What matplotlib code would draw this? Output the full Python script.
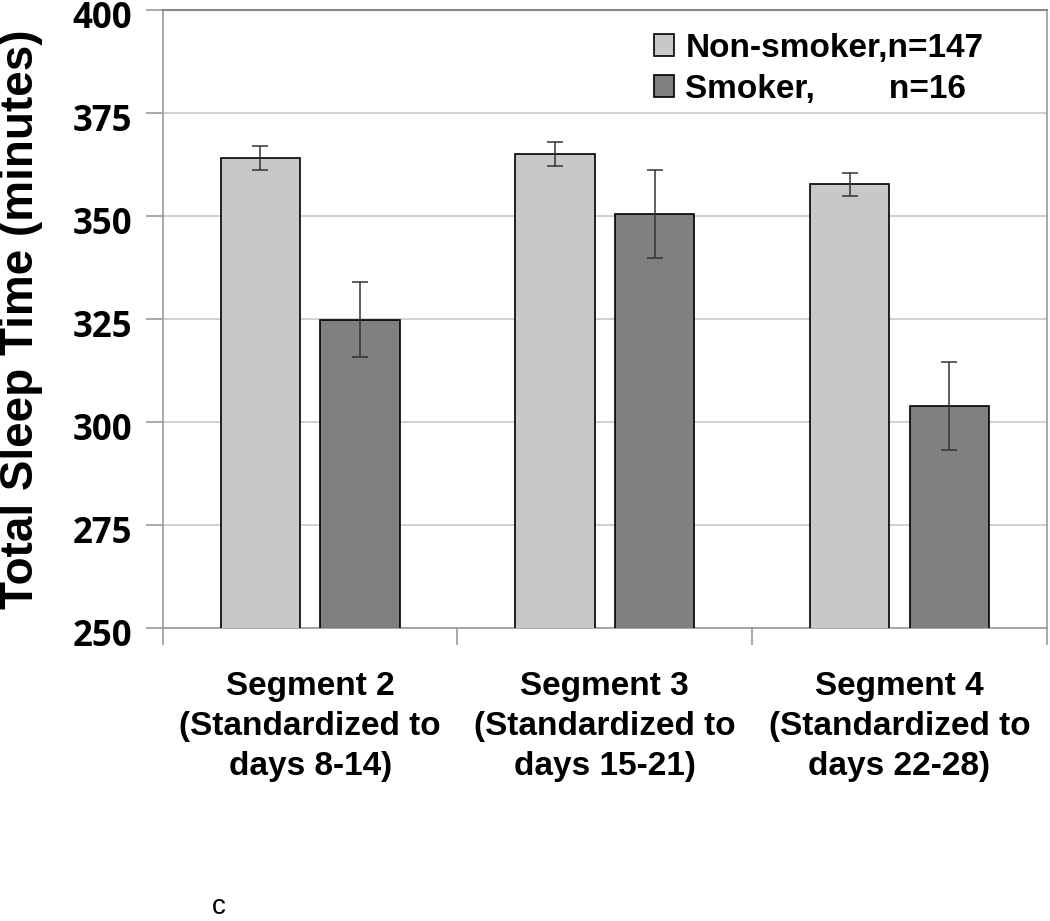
import numpy as np
import matplotlib.pyplot as plt
import matplotlib.transforms as mtransforms

segments = ["Segment 2\n(Standardized to\ndays 8-14)",
            "Segment 3\n(Standardized to\ndays 15-21)",
            "Segment 4\n(Standardized to\ndays 22-28)"]
nonsmoker = [364.2, 365.1, 357.7]
nonsmoker_err = [2.9, 3.0, 2.8]
smoker = [324.9, 350.6, 303.9]
smoker_err = [9.0, 10.7, 10.7]
labels = ["Non-smoker,n=147", "Smoker,        n=16"]

fig = plt.figure(figsize=(10.5, 9.21), dpi=100)
ax = fig.add_axes([0.155, 0.318, 0.842, 0.671])

x = np.arange(len(segments))
w = 0.27
off = 0.169
ax.bar(x - off, nonsmoker, w, color="#c8c8c8", edgecolor="black", linewidth=1.2,
       label=labels[0], zorder=3)
ax.bar(x + off, smoker, w, color="#808080", edgecolor="black", linewidth=1.2,
       label=labels[1], zorder=3)
ax.errorbar(x - off, nonsmoker, yerr=nonsmoker_err, fmt="none", ecolor="#333333",
            elinewidth=1.1, capsize=6, capthick=1.1, zorder=4)
ax.errorbar(x + off, smoker, yerr=smoker_err, fmt="none", ecolor="#333333",
            elinewidth=1.1, capsize=6, capthick=1.1, zorder=4)

ax.set_ylim(250, 400)
ax.set_xlim(-0.5, 2.5)
ax.set_yticks(np.arange(250, 401, 25))
ax.yaxis.grid(True, color="#c8c8c8", linewidth=1.2, zorder=0)
ax.set_axisbelow(True)
ax.tick_params(axis="y", length=12, color="#999999", width=1.2, pad=10)

# nudge y tick labels a few pixels down, like the original
shift = mtransforms.ScaledTranslation(0, -4 / 100, fig.dpi_scale_trans)
for lab in ax.get_yticklabels():
    lab.set_fontfamily("Open Sans")
    lab.set_fontweight("bold")
    lab.set_fontsize(25)
    lab.set_transform(lab.get_transform() + shift)

ax.set_xticks(x)
ax.set_xticklabels(segments, fontsize=24, fontweight="bold", family="Liberation Sans",
                   linespacing=1.38)
ax.tick_params(axis="x", length=0, pad=31)
ax.set_xticks([-0.5, 0.5, 1.5, 2.5], minor=True)
ax.tick_params(axis="x", which="minor", length=12, color="#999999", width=1.2)

for s in ["left", "bottom", "right"]:
    ax.spines[s].set_color("#999999")
    ax.spines[s].set_linewidth(1.2)
ax.spines["top"].set_color("#888888")
ax.spines["top"].set_linewidth(1.5)

ax.set_ylabel("Total Sleep Time (minutes)", fontsize=33, fontweight="bold",
              family="Liberation Sans")
ax.yaxis.set_label_coords(-0.136, 0.5)

leg = ax.legend(loc="upper right", bbox_to_anchor=(0.962, 1.012), frameon=False,
                prop={"family": "Liberation Sans", "weight": "bold", "size": 24},
                handlelength=0.6, handleheight=0.6, handletextpad=0.35, labelspacing=0.3)

fig.text(0.202, 0.008, "c", fontsize=20, family="Liberation Sans")

fig.savefig("out.png", dpi=100)
